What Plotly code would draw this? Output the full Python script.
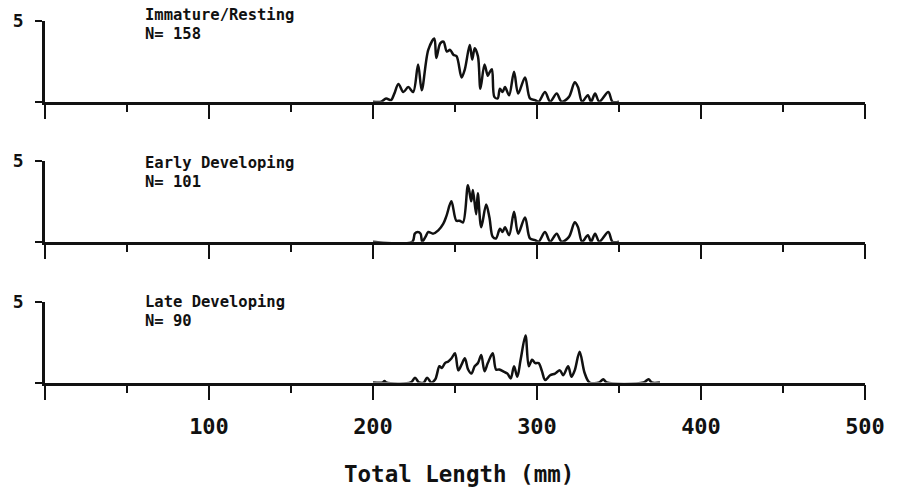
import plotly.graph_objects as go

# Length-frequency polygons (total length in mm vs. count) for three maturity stages
imm_len = [200, 205, 208, 211, 213, 215.5, 218.5, 221.5, 224.5, 227.5, 229.7, 233.7, 237.4, 238.6,
           241, 243, 245, 247, 249, 251, 254, 256, 259, 260.5, 262, 264, 265.5, 268, 270, 271,
           272.5, 274, 276, 277.4, 279, 280.5, 283, 286, 288.5, 292.7, 295.7, 298.8, 301, 304.9,
           308, 312, 315, 319.5, 323, 325, 327.5, 331, 333, 335.4, 338, 343.5, 346, 350]
imm_freq = [0, 0, 0.2, 0.1, 0.5, 1.1, 0.6, 0.9, 0.6, 2.3, 0.7, 3.2, 3.9, 2.7,
            3.6, 3.7, 3.1, 3.2, 2.9, 2.8, 1.5, 2.0, 3.5, 2.6, 3.3, 2.8, 0.8, 2.3, 1.6, 1.8,
            2.0, 0.3, 0.2, 0.8, 0.6, 0.9, 0.4, 1.85, 0.5, 1.5, 0.2, 0.1, 0, 0.6,
            0, 0.5, 0, 0.3, 1.2, 0.9, 0, 0.4, 0, 0.5, 0, 0.6, 0, 0]

early_len = [200, 224, 225.5, 227.3, 229, 230, 232, 233.7, 236.7, 239.8, 242.8, 244.8, 247.8,
             250.8, 252.8, 254.9, 257.9, 259.9, 260.9, 262.9, 263.9, 266, 269, 271, 273, 275,
             277.4, 279, 280.5, 283, 286, 288.5, 292.7, 295.7, 298.8, 301, 304.9, 308, 312, 315,
             319.5, 323, 325, 327.5, 331, 333, 335.4, 338, 343.5, 346, 350]
early_freq = [0, 0, 0.5, 0.6, 0.5, 0, 0.3, 0.6, 0.5, 0.7, 1.1, 1.6, 2.5,
              1.3, 1.3, 1.2, 3.5, 2.5, 3.2, 1.7, 3.0, 0.9, 2.3, 1.5, 0.3, 0.2,
              0.8, 0.6, 0.9, 0.4, 1.85, 0.5, 1.5, 0.2, 0.1, 0, 0.6, 0, 0.5, 0,
              0.3, 1.2, 0.9, 0, 0.4, 0, 0.5, 0, 0.6, 0, 0]

late_len = [200, 206, 207, 208, 223, 225.6, 228, 231, 233, 235.5, 238, 240.5, 242, 243.9, 245.9,
            247.9, 250, 252, 254, 256, 258, 260, 262, 264, 266, 268, 270, 273, 275, 277, 280,
            282, 284, 286, 288, 290, 293, 295, 297, 299, 301, 303, 305, 308, 311, 314, 316,
            319, 321, 323, 326, 329, 332, 338, 340.4, 342.5, 365, 368, 370, 375]
late_freq = [0, 0, 0.1, 0, 0, 0.3, 0, 0, 0.3, 0, 0.2, 1.0, 0.9, 1.2, 1.3,
             1.5, 1.8, 0.75, 1.1, 1.5, 0.8, 0.55, 1.0, 1.2, 1.7, 0.7, 1.2, 1.8, 0.8, 0.8, 0.65,
             0.55, 0.25, 1.0, 0.35, 1.4, 2.9, 1.0, 1.4, 1.2, 1.2, 0.7, 0.15, 0.45, 0.55, 0.75, 0.45,
             1.0, 0.35, 0.75, 1.9, 0.6, 0, 0, 0.2, 0, 0, 0.2, 0, 0]

panels = [
    ("Immature/Resting", "N= 158", imm_len, imm_freq),
    ("Early Developing", "N= 101", early_len, early_freq),
    ("Late Developing", "N= 90", late_len, late_freq),
]

x_ticks = [0, 100, 200, 300, 400, 500]
x_tick_text = ["", "100", "200", "300", "400", "500"]
y_ticks = [0, 5]
y_tick_text = ["", "5"]

W, H = 905, 493
FONT = "DejaVu Sans Mono"
INK = "#111111"

# pixel geometry of each panel: (baseline y, y of the value 5)
rows_px = [(101.7, 20.7), (241.7, 161.0), (382.5, 301.5)]
# vertical centres of the two caption lines in each panel
caption_px = [(15, 34), (163, 182), (302, 321)]
x_left, x_right = 45, 865

fig = go.Figure()
for i, (name, n_text, xs, ys) in enumerate(panels):
    k = "" if i == 0 else str(i + 1)
    fig.add_trace(go.Scatter(
        x=xs, y=ys, mode="lines",
        line=dict(color=INK, width=2.5, shape="spline", smoothing=0.9),
        xaxis="x" + k, yaxis="y" + k, showlegend=False, hoverinfo="skip",
    ))
    base, top = rows_px[i]
    last = i == len(panels) - 1
    fig.update_layout(**{
        "xaxis" + k: dict(
            domain=[x_left / W, x_right / W], range=[0, 500], anchor="y" + k,
            tickvals=x_ticks, ticktext=x_tick_text if last else [""] * len(x_ticks),
            ticks="outside", ticklen=15, tickwidth=2.2, tickcolor=INK,
            showline=True, linecolor=INK, linewidth=2.5, showgrid=False, zeroline=False,
            minor=dict(dtick=50, tick0=0, ticks="outside", ticklen=8, tickwidth=2.2, tickcolor=INK),
            tickfont=dict(family=FONT, size=22, color=INK, weight="bold"),
            ticklabelstandoff=7, automargin=False,
        ),
        "yaxis" + k: dict(
            domain=[1 - base / H, 1 - top / H], range=[0, 5], anchor="x" + k,
            tickvals=y_ticks, ticktext=y_tick_text,
            ticks="outside", ticklen=7, tickwidth=2.2, tickcolor=INK,
            showline=True, linecolor=INK, linewidth=2.5, showgrid=False, zeroline=False,
            tickfont=dict(family=FONT, size=18, color=INK, weight="bold"),
            ticklabelstandoff=8, automargin=False,
        ),
    })
    for text, cy in zip((name, n_text), caption_px[i]):
        fig.add_annotation(
            xref="paper", yref="paper", x=143 / W, y=1 - cy / H,
            xanchor="left", yanchor="middle", align="left", showarrow=False,
            text=text,
            font=dict(family=FONT, size=15.5, color=INK, weight="bold"),
        )

fig.add_annotation(
    xref="paper", yref="paper", x=459 / W, y=1 - 474 / H,
    xanchor="center", yanchor="middle", showarrow=False,
    text="Total Length (mm)",
    font=dict(family=FONT, size=22.5, color=INK, weight="bold"),
)

fig.update_layout(
    width=W, height=H, margin=dict(l=0, r=0, t=0, b=0, autoexpand=False),
    paper_bgcolor="white", plot_bgcolor="white",
)

fig.write_html("out.html")
